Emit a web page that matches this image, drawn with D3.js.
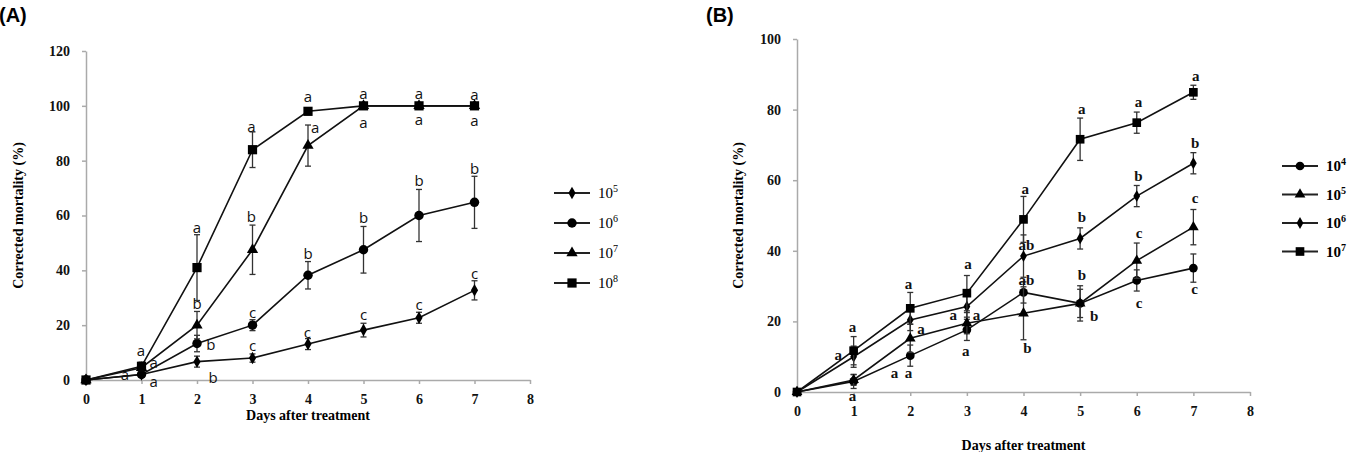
<!DOCTYPE html>
<html>
<head>
<meta charset="utf-8">
<script src="https://cdn.jsdelivr.net/npm/d3@7"></script>
<style>
  body { margin: 0; background: #fff; }
  svg { display: block; }
</style>
</head>
<body>
<div id="chart"></div>
<script>
// shared x values
const days = [0, 1, 2, 3, 4, 5, 6, 7];
const dayTicks = [0, 1, 2, 3, 4, 5, 6, 7, 8];

// ---- panel A (conc. 10^5 .. 10^8) ----
const aTicksY = [0, 20, 40, 60, 80, 100, 120];
const aLegend = ["5", "6", "7", "8"];
const aSymbols = ["diamond", "circle", "triangle", "square"];
const a1e5 = [0, 2, 6.7, 8, 13.1, 18.2, 22.7, 32.7];
const a1e5Err = [0, 0.8, 2, 1.5, 2, 2.5, 2, 3.5];
const a1e6 = [0, 2, 13.3, 20, 38.2, 47.5, 60, 64.8];
const a1e6Err = [0, 0.8, 3, 2, 5, 8.5, 9.5, 9.5];
const a1e7 = [0, 4.5, 20, 47.5, 85.5, 100, 100, 100];
const a1e7Err = [0, 1, 5, 9, 7.5, 0, 0, 0];
const a1e8 = [0, 5, 41, 84, 98, 100, 100, 100];
const a1e8Err = [0, 1.5, 12, 6.5, 1, 0, 0, 0];
// significance letters: [day, value, letter]
const aLetters = [
  [0.99, 10.8, "a"], [1.22, 6.4, "a"], [1.22, -0.4, "a"], [0.7, 2.2, "a"],
  [2, 55.7, "a"], [2, 28.1, "b"], [2.25, 13.3, "b"], [2.29, 1.2, "b"],
  [2.98, 92.7, "a"], [2.98, 59.7, "b"], [3, 24.8, "c"], [3, 12.7, "c"],
  [4, 103.6, "a"], [4.13, 92.1, "a"], [4, 46.3, "b"], [3.99, 17.6, "c"],
  [5, 104.8, "a"], [5, 94.2, "a"], [5, 59.4, "b"], [5, 24.2, "c"],
  [6, 104.6, "a"], [6, 95.2, "a"], [6, 73, "b"], [6, 27.9, "c"],
  [7, 104.2, "a"], [7, 94.8, "a"], [7, 77.3, "b"], [7, 39, "c"]
];

// ---- panel B (conc. 10^4 .. 10^7) ----
const bTicksY = [0, 20, 40, 60, 80, 100];
const bLegend = ["4", "5", "6", "7"];
const bSymbols = ["circle", "triangle", "diamond", "square"];
const b1e4 = [0, 3, 10.3, 17.6, 28.2, 25.1, 31.6, 35.1];
const b1e4Err = [0, 2, 3, 3, 3, 5, 3, 4];
const b1e5 = [0, 3.4, 15.2, 19.5, 22.3, 25.1, 37.2, 46.7];
const b1e5Err = [0, 1.5, 4, 3, 7.5, 4, 5, 5];
const b1e6 = [0, 10, 20.4, 24.2, 38.5, 43.5, 55.5, 64.8];
const b1e6Err = [0, 3, 3, 3, 6, 3, 3, 3];
const b1e7 = [0, 11.7, 23.7, 28, 48.9, 71.6, 76.3, 84.9];
const b1e7Err = [0, 4, 4.5, 5, 6.5, 6, 3, 2];
const bLetters = [
  [0.98, 18.5, "a"], [0.73, 10.5, "a"], [0.98, -1.1, "a"],
  [1.97, 30.6, "a"], [2.19, 17.8, "a"], [1.97, 5.3, "a"], [1.72, 5.3, "a"],
  [3.02, 36.3, "a"], [2.76, 21.8, "a"], [3.17, 21.8, "a"], [2.98, 11.6, "a"],
  [4.03, 57.5, "a"], [4.05, 41.7, "ab"], [4.05, 31.8, "ab"], [4.07, 12.4, "b"],
  [5.03, 80.2, "a"], [5.03, 49.7, "b"], [5.03, 33.2, "b"], [5.25, 21.4, "b"],
  [6.03, 82.1, "a"], [6.03, 61.1, "b"], [6.04, 45, "c"], [6.04, 25.3, "c"],
  [7.04, 89.6, "a"], [7.03, 70.6, "b"], [7.03, 55, "c"], [7.02, 29.1, "c"]
];

const W = 1362, H = 452;
const serif = "'Liberation Serif', 'Times New Roman', 'DejaVu Serif', serif";
const svg = d3.select("#chart").append("svg").attr("width", W).attr("height", H);

const symbolType = {
  circle: d3.symbolCircle, square: d3.symbolSquare,
  triangle: d3.symbolTriangle, diamond: d3.symbolDiamond
};

function drawPanel(p) {
  const x = d3.scaleLinear().domain([0, 8]).range(p.xRange);
  const y = d3.scaleLinear().domain([0, p.yMax]).range(p.yRange);
  const g = svg.append("g");

  const xAxis = g.append("g")
    .attr("transform", `translate(0, ${p.yRange[0]})`)
    .call(d3.axisBottom(x).tickValues(dayTicks).tickSize(4).tickSizeOuter(0).tickPadding(10));
  const yAxis = g.append("g")
    .attr("transform", `translate(${p.xRange[0]}, 0)`)
    .call(d3.axisLeft(y).tickValues(p.ticksY).tickSize(4).tickSizeOuter(0).tickPadding(12));
  [xAxis, yAxis].forEach((ax) => {
    ax.attr("font-family", null);
    ax.select(".domain").attr("stroke", "#aaa").attr("stroke-width", 1.5);
    ax.selectAll(".tick line").attr("stroke", "#aaa").attr("stroke-width", 1.5);
    ax.selectAll(".tick text")
      .attr("fill", "#111")
      .style("font-family", serif)
      .style("font-weight", "bold")
      .style("font-size", "14px");
  });

  // titles
  g.append("text")
    .attr("transform", `translate(${p.yTitleX}, ${(p.yRange[0] + p.yRange[1]) / 2}) rotate(-90)`)
    .attr("text-anchor", "middle")
    .attr("dominant-baseline", "middle")
    .style("font-family", serif).style("font-weight", "bold").style("font-size", "14px")
    .text("Corrected mortality (%)");
  g.append("text")
    .attr("x", (p.xRange[0] + p.xRange[1]) / 2)
    .attr("y", p.xTitleY)
    .attr("text-anchor", "middle")
    .style("font-family", serif).style("font-weight", "bold").style("font-size", "14px")
    .text("Days after treatment");
  g.append("text")
    .attr("x", p.tagX).attr("y", 22)
    .style("font-family", "'Liberation Sans', Arial, sans-serif").style("font-weight", "bold").style("font-size", "20px")
    .text(p.tag);

  const line = d3.line().x((d, i) => x(days[i])).y((d) => y(d));

  p.series.forEach((s, k) => {
    const sg = g.append("g");
    // error bars
    const eb = sg.selectAll(".err").data(s.vals.map((v, i) => [days[i], v, s.err[i]]).filter((d) => d[2] > 0))
      .join("g").attr("stroke", "#333").attr("stroke-width", 1.3);
    eb.append("line").attr("x1", (d) => x(d[0])).attr("x2", (d) => x(d[0]))
      .attr("y1", (d) => y(d[1] - d[2])).attr("y2", (d) => y(d[1] + d[2]));
    eb.append("line").attr("x1", (d) => x(d[0]) - 3).attr("x2", (d) => x(d[0]) + 3)
      .attr("y1", (d) => y(d[1] + d[2])).attr("y2", (d) => y(d[1] + d[2]));
    eb.append("line").attr("x1", (d) => x(d[0]) - 3).attr("x2", (d) => x(d[0]) + 3)
      .attr("y1", (d) => y(d[1] - d[2])).attr("y2", (d) => y(d[1] - d[2]));

    sg.append("path").datum(s.vals).attr("fill", "none").attr("stroke", "#111")
      .attr("stroke-width", 1.6).attr("d", line);
    sg.selectAll(".pt").data(s.vals).join("path")
      .attr("transform", (d, i) => `translate(${x(days[i])}, ${y(d)})`)
      .attr("fill", "#000")
      .attr("d", d3.symbol().type(symbolType[s.sym]).size(p.symSize[s.sym]));

    // legend
    const ly = p.legendY + k * p.legendStep;
    const lg = g.append("g").attr("transform", `translate(${p.legendX}, ${ly})`);
    lg.append("line").attr("x1", 0).attr("x2", 36).attr("stroke", "#222").attr("stroke-width", 2);
    lg.append("path").attr("transform", "translate(18, 0)").attr("fill", "#000")
      .attr("d", d3.symbol().type(symbolType[s.sym]).size(p.symSize[s.sym]));
    const t = lg.append("text").attr("x", 44).attr("y", 5)
      .style("font-family", serif).style("font-size", "15px").style("font-weight", p.legendWeight);
    t.append("tspan").text("10");
    t.append("tspan").attr("dy", -6).style("font-size", "10px").text(s.exp);
  });

  g.selectAll(".letter").data(p.letters).join("text")
    .attr("x", (d) => x(d[0])).attr("y", (d) => y(d[1]))
    .attr("text-anchor", "middle").attr("dominant-baseline", "central")
    .attr("fill", "#111")
    .style("font-family", p.letterFont).style("font-weight", p.letterWeight).style("font-size", p.letterSize)
    .text((d) => d[2]);
}

drawPanel({
  tag: "(A)", tagX: -1,
  xRange: [86, 530], yRange: [380, 51], yMax: 120, ticksY: aTicksY,
  yTitleX: 20, xTitleY: 420,
  series: [
    { vals: a1e5, err: a1e5Err, sym: aSymbols[0], exp: aLegend[0] },
    { vals: a1e6, err: a1e6Err, sym: aSymbols[1], exp: aLegend[1] },
    { vals: a1e7, err: a1e7Err, sym: aSymbols[2], exp: aLegend[2] },
    { vals: a1e8, err: a1e8Err, sym: aSymbols[3], exp: aLegend[3] }
  ],
  symSize: { circle: 70, square: 85, triangle: 55, diamond: 45 },
  legendX: 554, legendY: 193, legendStep: 30, legendWeight: "normal",
  letters: aLetters, letterFont: "'Open Sans', 'Liberation Sans', sans-serif", letterWeight: "normal", letterSize: "15px"
});

drawPanel({
  tag: "(B)", tagX: 706,
  xRange: [797, 1250], yRange: [392, 39], yMax: 100, ticksY: bTicksY,
  yTitleX: 740, xTitleY: 450,
  series: [
    { vals: b1e4, err: b1e4Err, sym: bSymbols[0], exp: bLegend[0] },
    { vals: b1e5, err: b1e5Err, sym: bSymbols[1], exp: bLegend[1] },
    { vals: b1e6, err: b1e6Err, sym: bSymbols[2], exp: bLegend[2] },
    { vals: b1e7, err: b1e7Err, sym: bSymbols[3], exp: bLegend[3] }
  ],
  symSize: { circle: 60, square: 75, triangle: 50, diamond: 40 },
  legendX: 1282, legendY: 166, legendStep: 28.5, legendWeight: "bold",
  letters: bLetters, letterFont: serif, letterWeight: "bold", letterSize: "15px"
});
</script>
</body>
</html>
